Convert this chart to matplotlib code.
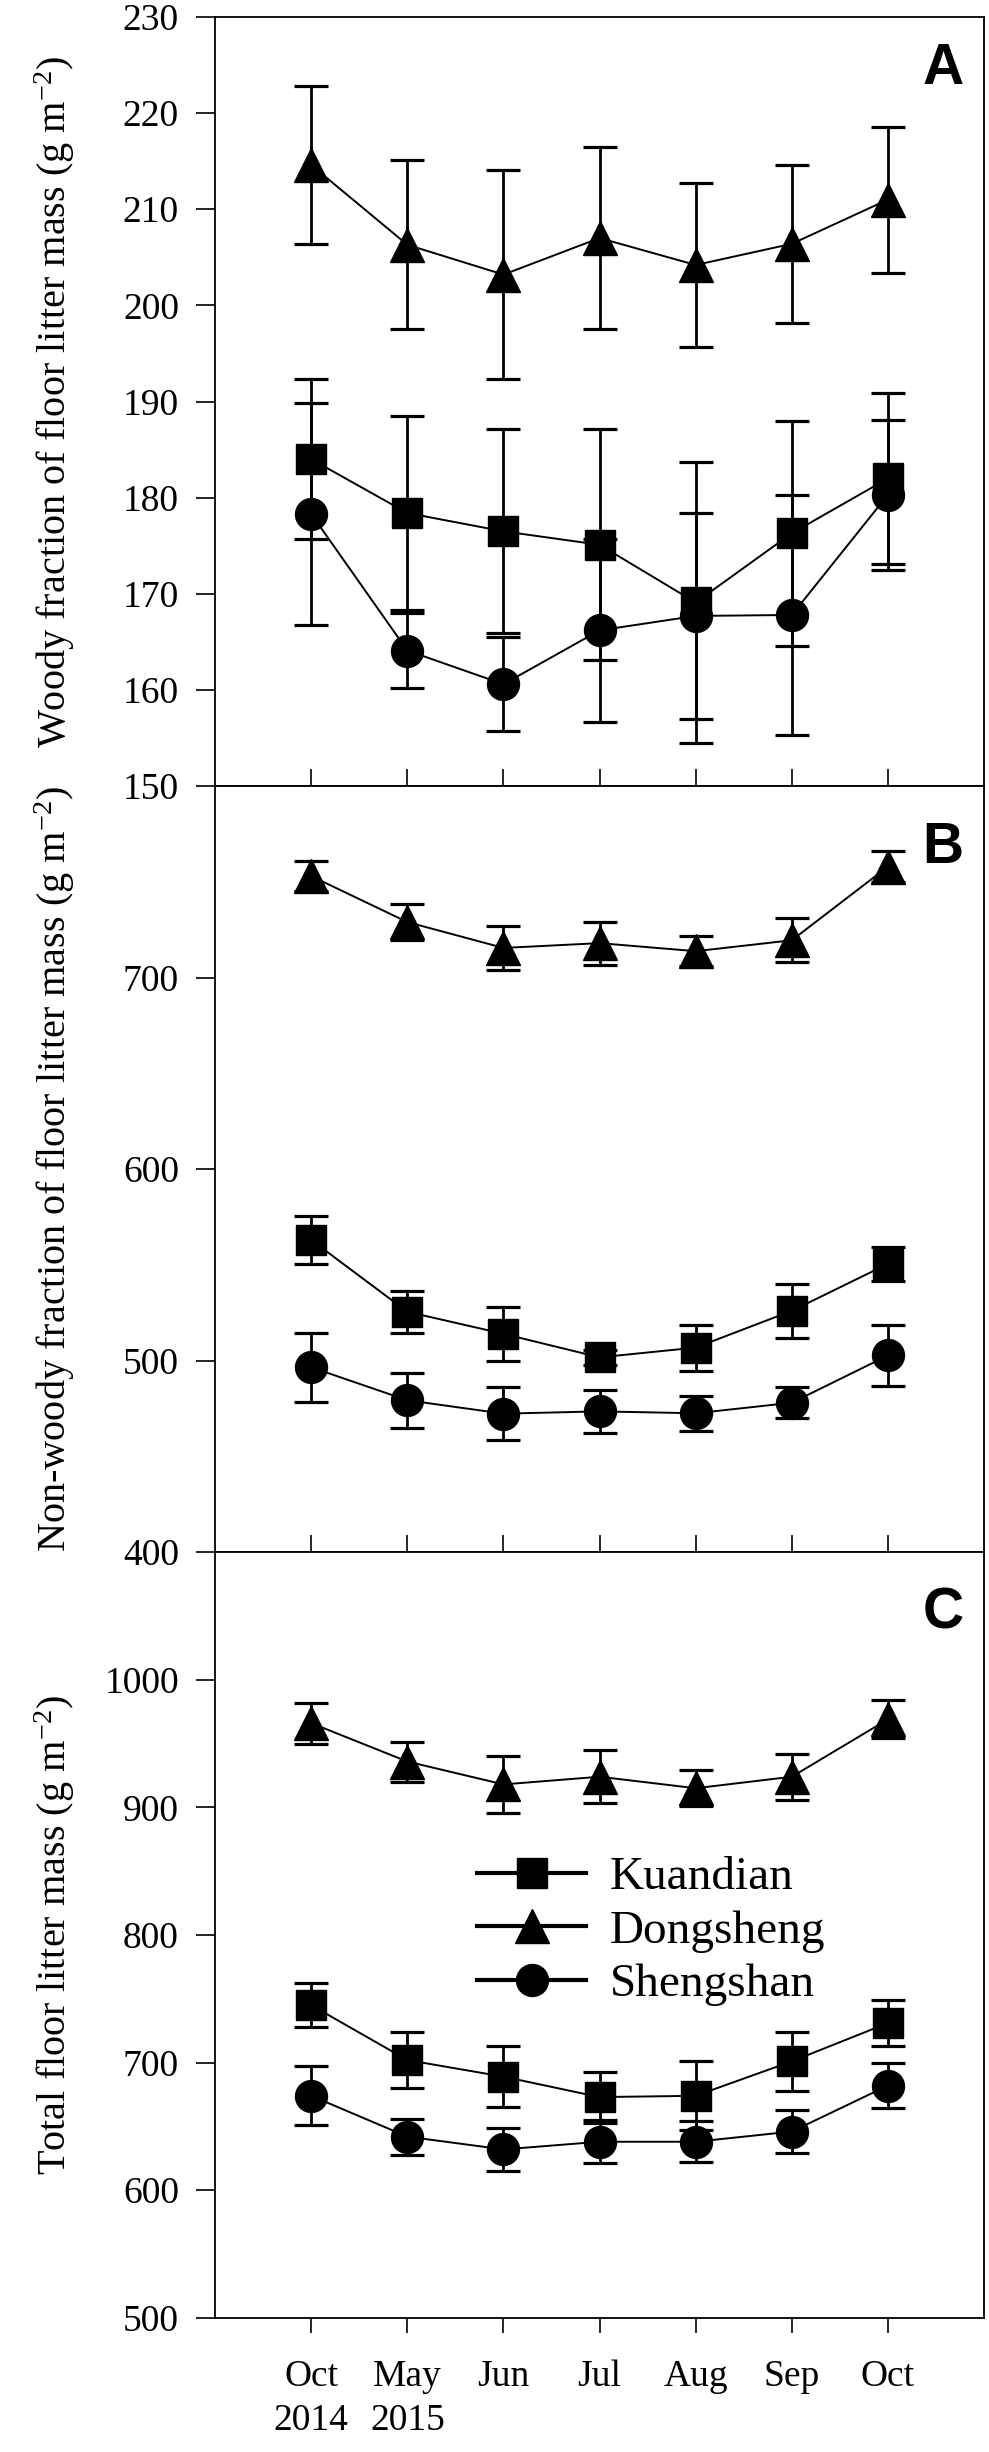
import matplotlib
matplotlib.use("Agg")
import matplotlib.pyplot as plt

plt.rcParams['font.family'] = ['Liberation Serif', 'DejaVu Serif']
plt.rcParams['mathtext.default'] = 'regular'

months = ["Oct\n2014", "May\n2015", "Jun", "Jul", "Aug", "Sep", "Oct"]
sites = ["Kuandian", "Dongsheng", "Shengshan"]
markers = ["s", "^", "o"]
msizes = [22, 24, 23]

# panel A: woody fraction
woody_k = [184.0, 178.4, 176.5, 175.1, 169.1, 176.3, 182.0]
woody_k_se = [8.3, 10.1, 10.6, 12.0, 14.6, 11.7, 8.9]
woody_d = [214.6, 206.3, 203.2, 207.0, 204.2, 206.4, 211.0]
woody_d_se = [8.2, 8.8, 10.9, 9.5, 8.5, 8.2, 7.6]
woody_s = [178.3, 164.1, 160.6, 166.2, 167.7, 167.8, 180.3]
woody_s_se = [11.5, 3.9, 4.9, 9.5, 10.7, 12.5, 7.8]

# panel B: non-woody fraction
nonwoody_k = [563.0, 525.5, 514.0, 501.7, 506.8, 526.0, 550.5]
nonwoody_k_se = [12.5, 11.1, 14.0, 4.0, 12.0, 14.0, 9.0]
nonwoody_d = [753.0, 729.0, 715.5, 718.0, 713.8, 719.5, 758.0]
nonwoody_d_se = [8.0, 9.5, 11.7, 11.2, 7.9, 11.4, 7.9]
nonwoody_s = [496.5, 479.3, 472.3, 473.5, 472.5, 478.0, 502.7]
nonwoody_s_se = [18.0, 14.3, 13.7, 11.1, 9.0, 8.0, 15.9]

# panel C: total
total_k = [745.0, 702.0, 689.0, 673.0, 674.0, 701.0, 731.0]
total_k_se = [17.0, 22.0, 24.0, 20.0, 27.0, 23.0, 18.0]
total_d = [966.0, 935.9, 918.0, 924.0, 915.0, 924.0, 969.0]
total_d_se = [16.0, 15.7, 22.6, 20.9, 14.0, 18.0, 14.8]
total_s = [674.0, 642.0, 632.0, 638.0, 638.0, 646.0, 682.0]
total_s_se = [23.0, 14.0, 17.0, 17.0, 16.0, 16.5, 17.6]

panels = [
    ("A", "Woody fraction of floor litter mass (g m$^{-2}$)",
     [(woody_k, woody_k_se), (woody_d, woody_d_se), (woody_s, woody_s_se)],
     (150, 230), list(range(150, 231, 10))),
    ("B", "Non-woody fraction of floor litter mass (g m$^{-2}$)",
     [(nonwoody_k, nonwoody_k_se), (nonwoody_d, nonwoody_d_se), (nonwoody_s, nonwoody_s_se)],
     (400, 800), [400, 500, 600, 700]),
    ("C", "Total floor litter mass (g m$^{-2}$)",
     [(total_k, total_k_se), (total_d, total_d_se), (total_s, total_s_se)],
     (500, 1100), [500, 600, 700, 800, 900, 1000]),
]

fig = plt.figure(figsize=(9.89, 24.52), dpi=100)
left, right = 0.2175, 0.995
bottoms = [0.6794, 0.367, 0.0547]
tops = [0.9931, 0.6794, 0.367]

x = list(range(len(months)))
for i, (letter, ylabel, series, ylim, yticks) in enumerate(panels):
    ax = fig.add_axes([left, bottoms[i], right - left, tops[i] - bottoms[i]])
    handles = []
    for j, (vals, se) in enumerate(series):
        eb = ax.errorbar(x, vals, yerr=se, fmt=markers[j], ls='-', color='black',
                         ms=msizes[j], lw=1.4, elinewidth=2.0, capsize=12.5,
                         capthick=2.3)
        handles.append(eb.lines[0])
    ax.set_xlim(-1, 7)
    ax.set_ylim(*ylim)
    ax.set_yticks(yticks)
    ax.set_xticks(x)
    ax.tick_params(axis='y', direction='out', length=14, width=1.2, labelsize=27, pad=12)
    if i < 2:
        ax.tick_params(axis='x', direction='in', length=12, width=1.2, labelbottom=False)
    else:
        ax.set_xticklabels(months, linespacing=1.35)
        ax.tick_params(axis='x', direction='out', length=11, width=1.2, labelsize=27, pad=19)
    for sp in ax.spines.values():
        sp.set_linewidth(1.3)
    ax.set_ylabel(ylabel, fontsize=29)
    ax.yaxis.set_label_coords(-0.18, 0.5)
    ax.text(0.973, 0.967 - 0.012 * (i > 0), letter, transform=ax.transAxes,
            ha='right', va='top', fontsize=41, fontweight='bold',
            family='Liberation Sans')
    if letter == "C":
        leg = ax.legend(handles, sites, loc='center left', bbox_to_anchor=(0.341, 0.505),
                        frameon=False, fontsize=34, borderpad=0, borderaxespad=0,
                        handlelength=2.3, handletextpad=0.5, labelspacing=0.22)
        for ln in leg.get_lines():
            ln.set_linewidth(3)

fig.savefig("out.png", dpi=100)
